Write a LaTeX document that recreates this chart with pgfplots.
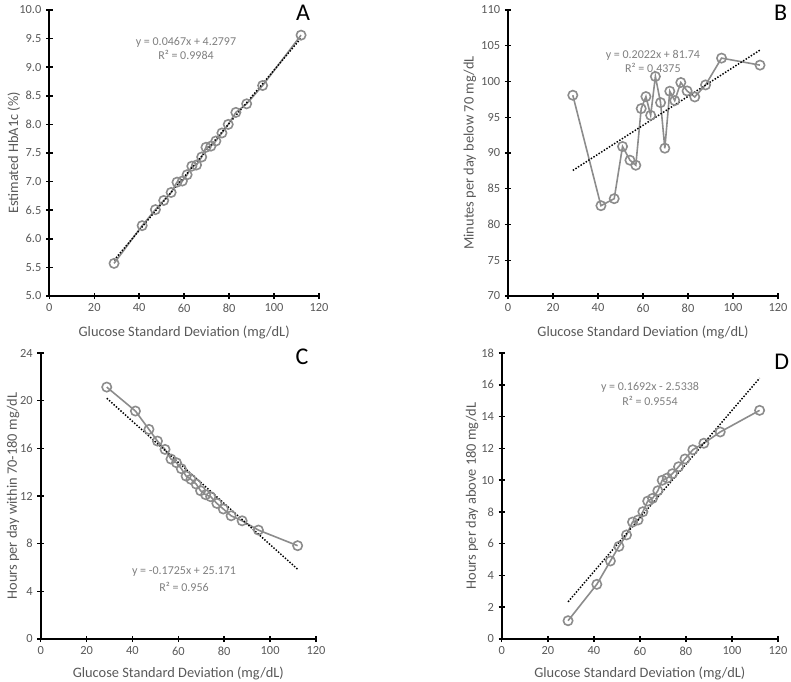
\documentclass[border=0pt]{standalone}
\usepackage{fontspec}
\setmainfont{Carlito}
\usepackage{pgfplots}
\usepackage{pgfplotstable}
\pgfplotsset{compat=1.18}
\definecolor{txtgray}{HTML}{595959}
\definecolor{eqgray}{HTML}{7F7F7F}
\definecolor{sergray}{HTML}{8C8C8C}

\pgfplotstableread{
x a b c d
28.8 5.57 98.08 21.14 1.15
41.3 6.23 82.63 19.13 3.44
47.2 6.51 83.61 17.59 4.91
50.9 6.67 90.91 16.61 5.83
54.2 6.81 88.99 15.91 6.55
56.8 6.99 88.29 15.10 7.36
59.2 7.01 96.21 14.79 7.49
61.3 7.12 97.89 14.29 8.01
63.4 7.27 95.27 13.67 8.68
65.5 7.29 100.70 13.40 8.85
67.8 7.43 97.05 13.00 9.33
69.7 7.60 90.67 12.44 9.99
71.9 7.62 98.64 12.11 10.13
74.1 7.71 97.33 11.94 10.40
76.8 7.85 99.86 11.38 10.84
79.6 8.00 98.68 10.91 11.33
83.0 8.21 97.84 10.34 11.91
87.8 8.36 99.52 9.92 12.32
94.9 8.68 103.27 9.14 13.03
112.0 9.56 102.29 7.83 14.39
}\data

\tikzset{
  eq/.style={font=\fontsize{9}{10}\selectfont, text=eqgray, align=center},
  letter/.style={font=\fontsize{18}{20}\selectfont, text=black},
}
\pgfplotsset{
  panel/.style={
    scale only axis,
    anchor=south west,
    axis x line*=bottom,
    axis y line*=left,
    axis line style={black, line width=1.3pt, -},
    tick align=center,
    major tick length=4.8pt,
    tick style={black, line width=1.1pt},
    xmin=0, xmax=120,
    xtick={0,20,...,120},
    ticklabel style={font=\fontsize{9.3}{10}\selectfont, text=txtgray},
    /pgf/number format/assume math mode=true,
    label style={font=\fontsize{10.8}{12}\selectfont, text=txtgray},
    xlabel={Glucose Standard Deviation (mg/dL)},
    clip=false,
  },
  ser/.style={color=sergray, line width=1.2pt, mark=o, mark size=3.5pt,
    mark options={line width=1.2pt, fill=white}},
  trend/.style={black, line width=1.1pt, dash pattern=on 1.1pt off 1.2pt},
}

\begin{document}
\begin{tikzpicture}
\useasboundingbox (0,0) rectangle (593.25pt,510.75pt);

% Panel A
\begin{axis}[panel, at={(36.98pt,288.75pt)}, width=202.3pt, height=214.5pt,
  ymin=5, ymax=10, ytick={5,5.5,...,10},
  yticklabel style={/pgf/number format/.cd, fixed, fixed zerofill, precision=1},
  ylabel={Estimated HbA1c (\%)},
  ylabel style={at={(axis description cs:-0.131,0.5)}, anchor=center},
  xlabel style={at={(axis description cs:0.5,-0.126)}, anchor=center}]
\addplot[ser] table[x=x,y=a]{\data};
\addplot[trend] coordinates {(28.8,5.625) (112,9.510)};
\node[eq] at (axis cs:60.8,9.44) {y = 0.0467x + 4.2797};
\node[eq] at (axis cs:60.8,9.21) {R² = 0.9984};
\node[letter] at (axis cs:112.9,9.95) {A};
\end{axis}

% Panel B
\begin{axis}[panel, at={(381pt,288.75pt)}, width=202.5pt, height=214.5pt,
  ymin=70, ymax=110, ytick={70,75,...,110},
  ylabel={Minutes per day below 70 mg/dL},
  ylabel style={at={(axis description cs:-0.141,0.5)}, anchor=center},
  xlabel style={at={(axis description cs:0.5,-0.126)}, anchor=center}]
\addplot[ser] table[x=x,y=b]{\data};
\addplot[trend] coordinates {(28.8,87.56) (112,104.39)};
\node[eq] at (axis cs:64.4,103.7) {y = 0.2022x + 81.74};
\node[eq] at (axis cs:64.4,101.9) {R² = 0.4375};
\node[letter] at (axis cs:121.2,109.6) {B};
\end{axis}

% Panel C
\begin{axis}[panel, at={(30.5pt,31.5pt)}, width=206.5pt, height=214.5pt,
  ymin=0, ymax=24, ytick={0,4,...,24},
  ylabel={Hours per day within 70-180 mg/dL},
  ylabel style={at={(axis description cs:-0.1,0.5)}, anchor=center},
  xlabel style={at={(axis description cs:0.5,-0.119)}, anchor=center}]
\addplot[ser] table[x=x,y=c]{\data};
\addplot[trend] coordinates {(28.8,20.203) (112,5.851)};
\node[eq] at (axis cs:62.5,5.62) {y = -0.1725x + 25.171};
\node[eq] at (axis cs:62.5,4.36) {R² = 0.956};
\node[letter] at (axis cs:113.9,23.66) {C};
\end{axis}

% Panel D
\begin{axis}[panel, at={(376.3pt,31.5pt)}, width=207.2pt, height=214.5pt,
  ymin=0, ymax=18, ytick={0,2,...,18},
  ylabel={Hours per day above 180 mg/dL},
  ylabel style={at={(axis description cs:-0.107,0.5)}, anchor=center},
  xlabel style={at={(axis description cs:0.5,-0.119)}, anchor=center}]
\addplot[ser] table[x=x,y=d]{\data};
\addplot[trend] coordinates {(28.8,2.339) (112,16.417)};
\node[eq] at (axis cs:64.4,15.86) {y = 0.1692x - 2.5338};
\node[eq] at (axis cs:64.4,14.98) {R² = 0.9554};
\node[letter] at (axis cs:121.6,17.43) {D};
\end{axis}
\end{tikzpicture}
\end{document}
